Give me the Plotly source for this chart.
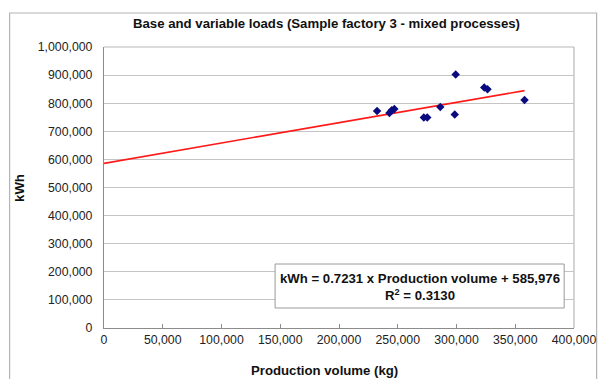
import plotly.graph_objects as go

# Monthly observations: production volume (kg) vs electricity use (kWh)
production_kg = [232400, 242900, 244900, 247100, 272200, 275100,
                 286200, 299300, 298500, 323600, 326400, 357900]
energy_kwh = [772500, 765400, 775000, 779600, 749000, 749000,
              786700, 901900, 759700, 855700, 849600, 811600]

# Fitted linear trend (base load + variable load)
slope = 0.7231
intercept = 585976
r_squared = 0.3130

title_text = "Base and variable loads (Sample factory 3 - mixed processes)"
x_title = "Production volume (kg)"
y_title = "kWh"

trend_x = [0, max(production_kg)]
trend_y = [intercept + slope * v for v in trend_x]

FONT = "Liberation Sans, Arial, sans-serif"

fig = go.Figure()
fig.add_trace(go.Scatter(
    x=trend_x, y=trend_y, mode="lines",
    line=dict(color="#ff1a1a", width=1.6), hoverinfo="skip", showlegend=False))
fig.add_trace(go.Scatter(
    x=production_kg, y=energy_kwh, mode="markers",
    marker=dict(symbol="diamond", size=6.5, color="#0a0a80"), showlegend=False))

W, H = 608, 379
L, R, T, B = 104, 582, 47, 328   # plot area in pixels


def px(x):
    return (x - L) / (R - L)


def py(y):
    return (B - y) / (B - T)


shapes = [
    # outer chart frame
    dict(type="rect", xref="paper", yref="paper",
         x0=px(8), x1=px(605), y0=py(395), y1=py(13),
         line=dict(color="#b4b4b4", width=1.2), layer="below"),
    # plot area border (top and right)
    dict(type="line", xref="paper", yref="paper", x0=0, x1=1, y0=1, y1=1,
         line=dict(color="#b8b8b8", width=1.2), layer="below"),
    dict(type="line", xref="paper", yref="paper", x0=1, x1=1, y0=0, y1=1,
         line=dict(color="#b8b8b8", width=1.2), layer="below"),
    # equation box
    dict(type="rect", xref="paper", yref="paper",
         x0=px(278), x1=px(572), y0=py(308), y1=py(264),
         line=dict(color="#9a9a9a", width=1), fillcolor="white", layer="above"),
]

BOLD_SIZE = 13.2


def label(text, x, y, angle=0):
    return dict(text=text, xref="paper", yref="paper", x=px(x), y=py(y),
                xanchor="center", yanchor="middle", showarrow=False,
                textangle=angle, align="center",
                font=dict(family=FONT, size=BOLD_SIZE, color="#111"))


annotations = [
    label("<b>" + title_text + "</b>", 330, 23),
    label("<b>" + x_title + "</b>", 328.5, 370),
    label("<b>" + y_title + "</b>", 18, 187.5, angle=-90),
    label("<b>kWh = {:.4f} x Production volume + {:,}<br>R<sup>2</sup> = {:.4f}</b>".format(
          slope, intercept, r_squared), 425, 287),
]

fig.update_layout(
    width=W, height=H,
    margin=dict(l=L, r=W - R, t=T, b=H - B),
    paper_bgcolor="white", plot_bgcolor="white",
    font=dict(family=FONT, size=12, color="#222"),
    shapes=shapes, annotations=annotations,
    xaxis=dict(range=[0, 400000], dtick=50000, tickformat=",d",
               showgrid=False, zeroline=False, showline=True,
               linecolor="#8c8c8c", linewidth=1.2,
               ticks="inside", ticklen=4, tickcolor="#8c8c8c",
               tickfont=dict(family=FONT, size=12.3, color="#222")),
    yaxis=dict(range=[0, 1000000], dtick=100000, tickformat=",d",
               showgrid=True, gridcolor="#c4c4c4", gridwidth=1.2,
               zeroline=False, showline=True,
               linecolor="#8c8c8c", linewidth=1.2, ticks="",
               ticklabelstandoff=8,
               tickfont=dict(family=FONT, size=12.3, color="#222")),
)

fig.write_html("out.html")
